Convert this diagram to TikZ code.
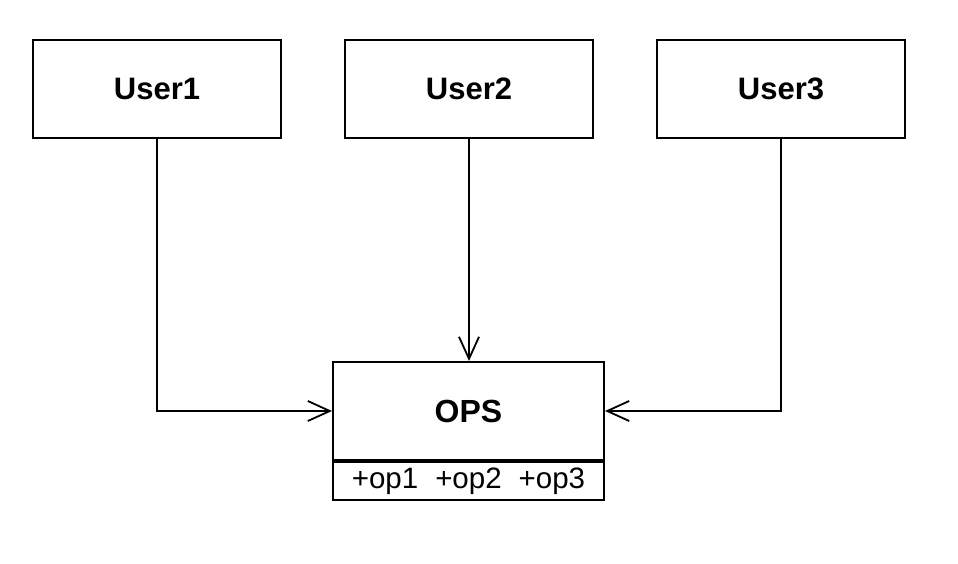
\documentclass[tikz,border=0pt]{standalone}
\usepackage{fontspec}
\setmainfont{Liberation Sans}
\usetikzlibrary{arrows.meta}
\begin{document}
\begin{tikzpicture}[x=1pt,y=-1pt,
  box/.style={draw,line width=2pt,minimum width=248pt,minimum height=98pt,inner sep=0pt,font=\fontsize{31}{34}\selectfont\bfseries},
  conn/.style={line width=1.8pt,-{Straight Barb[length=22pt,width=20pt,line width=1.8pt]}}]
\useasboundingbox (0,0) rectangle (958,564);
\node[box] (u1) at (157,89) {User1};
\node[box] (u2) at (469,89) {User2};
\node[box] (u3) at (781,89) {User3};
\node[box,minimum width=271pt,minimum height=98pt,font=\fontsize{32}{35}\selectfont\bfseries] (ops) at (468.5,411) {OPS};
\node[draw,line width=2pt,minimum width=271pt,minimum height=38pt,inner sep=0pt,anchor=north,font=\fontsize{29.5}{32}\selectfont] (opl) at (ops.south) {+op1\hspace{17pt}+op2\hspace{17pt}+op3};
\draw[conn] (u1.south) |- (ops.west);
\draw[conn] (u2.south) -- (u2.south |- ops.north);
\draw[conn] (u3.south) |- (ops.east);
\end{tikzpicture}
\end{document}
